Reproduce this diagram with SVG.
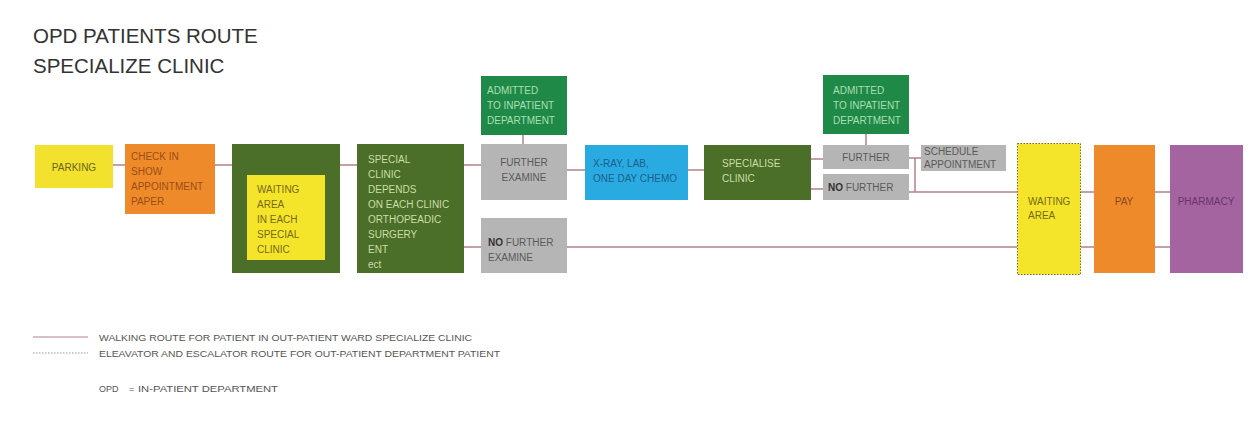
<svg xmlns="http://www.w3.org/2000/svg" width="1255" height="428" viewBox="0 0 1255 428">
<style>
text{font-family:"Liberation Sans",Arial,sans-serif;font-size:10px}
.title{font-size:20.5px;fill:#333}
.c{stroke:#b0808a;stroke-width:1.5;fill:none}
.gray{fill:#b5b5b5}
.gt{fill:#5a5a5a}
.dg{fill:#4b6e29}
.dgt{fill:#c9dfa5}
.ag{fill:#1f8a47}
.agt{fill:#a9dfb3}
.leg{font-size:9px;fill:#555}
</style>
<rect width="1255" height="428" fill="#fff"/>
<g id="title">
<text class="title" x="33" y="43">OPD PATIENTS ROUTE</text>
<text class="title" x="33" y="73">SPECIALIZE CLINIC</text>
</g>
<g id="connectors">
<line class="c" x1="113" y1="165" x2="125" y2="165"/>
<line class="c" x1="215" y1="165" x2="232" y2="165"/>
<line class="c" x1="340" y1="165" x2="357" y2="165"/>
<line class="c" x1="464" y1="165" x2="481" y2="165"/>
<line class="c" x1="464" y1="247" x2="481" y2="247"/>
<line class="c" x1="523" y1="135" x2="523" y2="144"/>
<line class="c" x1="567" y1="170" x2="585" y2="170"/>
<line class="c" x1="688" y1="170" x2="704" y2="170"/>
<line class="c" x1="811" y1="159" x2="823" y2="159"/>
<line class="c" x1="811" y1="189" x2="823" y2="189"/>
<line class="c" x1="866" y1="134" x2="866" y2="145"/>
<line class="c" x1="909" y1="158" x2="921" y2="158"/>
<line class="c" x1="915" y1="158" x2="915" y2="192"/>
<line class="c" x1="909" y1="192" x2="1017" y2="192"/>
<line class="c" x1="567" y1="247" x2="1017" y2="247"/>
<line class="c" x1="1081" y1="192" x2="1094" y2="192"/>
<line class="c" x1="1081" y1="247" x2="1094" y2="247"/>
<line class="c" x1="1155" y1="192" x2="1170" y2="192"/>
<line class="c" x1="1155" y1="247" x2="1170" y2="247"/>
</g>
<g id="parking">
<rect x="35" y="145" width="78" height="43" fill="#f2e22e"/>
<text x="74" y="171" text-anchor="middle" fill="#6b6420">PARKING</text>
</g>
<g id="checkin">
<rect x="125" y="144" width="90" height="70" fill="#ef8a2a"/>
<text fill="#9a4e14"><tspan x="131" y="160">CHECK IN</tspan><tspan x="131" y="175">SHOW</tspan><tspan x="131" y="190">APPOINTMENT</tspan><tspan x="131" y="205">PAPER</tspan></text>
</g>
<g id="waiting-clinic">
<rect class="dg" x="232" y="144" width="108" height="129"/>
<rect x="247" y="175" width="78" height="85" fill="#f5e52a"/>
<text fill="#75691a"><tspan x="257" y="193">WAITING</tspan><tspan x="257" y="208">AREA</tspan><tspan x="257" y="223">IN EACH</tspan><tspan x="257" y="238">SPECIAL</tspan><tspan x="257" y="253">CLINIC</tspan></text>
</g>
<g id="special-clinic">
<rect class="dg" x="357" y="144" width="107" height="129"/>
<text class="dgt"><tspan x="368" y="163">SPECIAL</tspan><tspan x="368" y="178">CLINIC</tspan><tspan x="368" y="193">DEPENDS</tspan><tspan x="368" y="208">ON EACH CLINIC</tspan><tspan x="368" y="223">ORTHOPEADIC</tspan><tspan x="368" y="238">SURGERY</tspan><tspan x="368" y="253">ENT</tspan><tspan x="368" y="268">ect</tspan></text>
</g>
<g id="admitted1">
<rect class="ag" x="481" y="76" width="86" height="59"/>
<text class="agt"><tspan x="487" y="94">ADMITTED</tspan><tspan x="487" y="109">TO INPATIENT</tspan><tspan x="487" y="124">DEPARTMENT</tspan></text>
</g>
<g id="further-examine">
<rect class="gray" x="481" y="144" width="86" height="56"/>
<text class="gt" text-anchor="middle"><tspan x="524" y="166">FURTHER</tspan><tspan x="524" y="181">EXAMINE</tspan></text>
</g>
<g id="no-further-examine">
<rect class="gray" x="481" y="218" width="86" height="55"/>
<text class="gt"><tspan x="488" y="246"><tspan font-weight="bold" fill="#333">NO</tspan> FURTHER</tspan><tspan x="488" y="261">EXAMINE</tspan></text>
</g>
<g id="xray">
<rect x="585" y="145" width="103" height="55" fill="#29abe2"/>
<text fill="#1b5f8c"><tspan x="593" y="167">X-RAY, LAB,</tspan><tspan x="593" y="182">ONE DAY CHEMO</tspan></text>
</g>
<g id="specialise-clinic">
<rect class="dg" x="704" y="145" width="107" height="55"/>
<text class="dgt"><tspan x="722" y="167">SPECIALISE</tspan><tspan x="722" y="182">CLINIC</tspan></text>
</g>
<g id="admitted2">
<rect class="ag" x="823" y="75" width="86" height="59"/>
<text class="agt"><tspan x="833" y="94">ADMITTED</tspan><tspan x="833" y="109">TO INPATIENT</tspan><tspan x="833" y="124">DEPARTMENT</tspan></text>
</g>
<g id="further">
<rect class="gray" x="823" y="145" width="86" height="24"/>
<text class="gt" x="866" y="161" text-anchor="middle">FURTHER</text>
</g>
<g id="no-further">
<rect class="gray" x="823" y="174" width="86" height="26"/>
<text class="gt" x="828" y="191"><tspan font-weight="bold" fill="#333">NO</tspan> FURTHER</text>
</g>
<g id="schedule">
<rect class="gray" x="921" y="145" width="85" height="26"/>
<text class="gt"><tspan x="924" y="155">SCHEDULE</tspan><tspan x="924" y="168">APPOINTMENT</tspan></text>
</g>
<g id="waiting-area">
<rect x="1017.5" y="143.5" width="63" height="131" fill="#f5e52a" stroke="#6e6a2e" stroke-width="1" stroke-dasharray="1.5 1.5"/>
<text fill="#75691a"><tspan x="1028" y="205">WAITING</tspan><tspan x="1028" y="219">AREA</tspan></text>
</g>
<g id="pay">
<rect x="1094" y="145" width="61" height="128" fill="#ef8a2a"/>
<text x="1124" y="205" text-anchor="middle" fill="#8a4a20">PAY</text>
</g>
<g id="pharmacy">
<rect x="1170" y="145" width="73" height="128" fill="#a3649f"/>
<text x="1206" y="205" text-anchor="middle" fill="#6a3468">PHARMACY</text>
</g>
<g id="legend">
<line x1="33" y1="337" x2="88" y2="337" stroke="#b0808a" stroke-width="1"/>
<text class="leg" x="99" y="341" textLength="373" lengthAdjust="spacingAndGlyphs">WALKING ROUTE FOR PATIENT IN OUT-PATIENT WARD SPECIALIZE CLINIC</text>
<line x1="33" y1="353" x2="88" y2="353" stroke="#bbb" stroke-width="1.5" stroke-dasharray="1.5 1.5"/>
<text class="leg" x="99" y="357" textLength="401" lengthAdjust="spacingAndGlyphs">ELEAVATOR AND ESCALATOR ROUTE FOR OUT-PATIENT DEPARTMENT PATIENT</text>
<text class="leg" x="99" y="392">OPD</text>
<text class="leg" x="129" y="392">=</text>
<text class="leg" x="138" y="392" textLength="140" lengthAdjust="spacingAndGlyphs">IN-PATIENT DEPARTMENT</text>
</g>
</svg>
